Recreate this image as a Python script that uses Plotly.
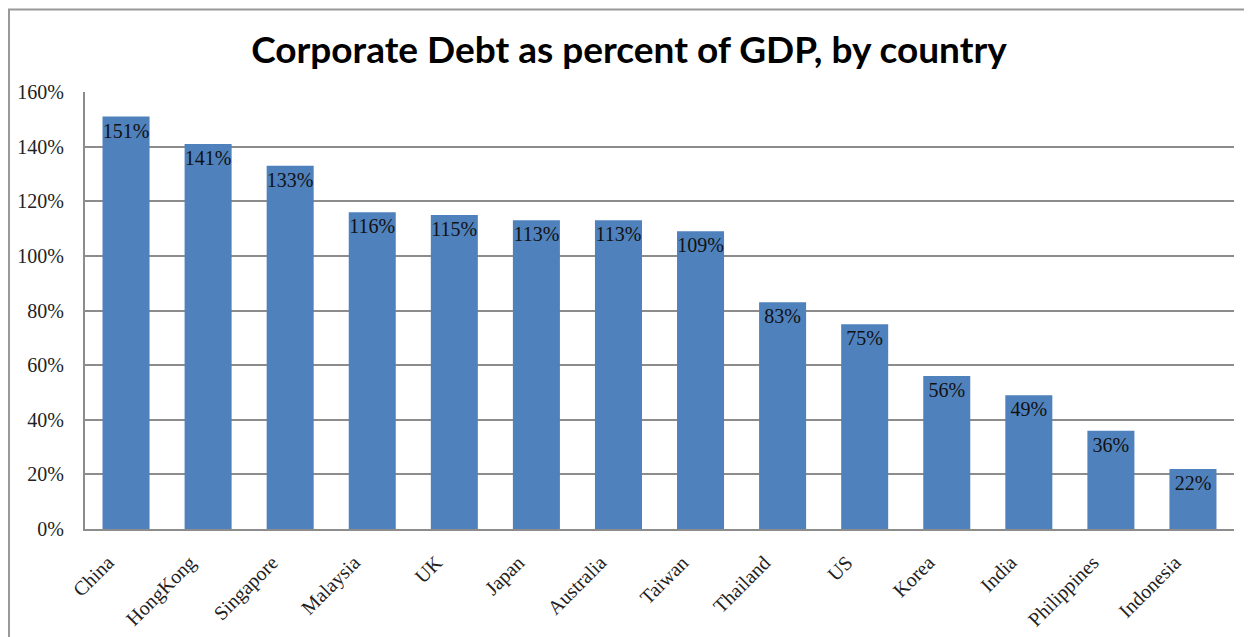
import plotly.graph_objects as go

countries = ["China", "HongKong", "Singapore", "Malaysia", "UK", "Japan", "Australia",
             "Taiwan", "Thailand", "US", "Korea", "India", "Philippines", "Indonesia"]
debt_pct = [151, 141, 133, 116, 115, 113, 113, 109, 83, 75, 56, 49, 36, 22]
label_text = [f"{v}%" for v in debt_pct]
y_ticks = [0, 20, 40, 60, 80, 100, 120, 140, 160]

BAR = "#4F81BD"
SERIF = "Liberation Serif, DejaVu Serif, serif"

# page body has an 8px default margin; compensate so the chart fills 1252x637
OFF = 8
W, H = 1252 - OFF, 637 - OFF
L, R, T, B = 85 - OFF, 18, 92 - OFF, 108
pw, ph = W - L - R, H - T - B

fig = go.Figure()
fig.add_trace(go.Bar(
    x=countries, y=debt_pct, text=label_text,
    textposition="inside", insidetextanchor="end", textangle=0,
    constraintext="none",
    textfont=dict(family=SERIF, size=20, color="#111111"),
    marker=dict(color=BAR, line=dict(width=0)),
    cliponaxis=False,
))

fig.update_layout(
    width=W, height=H,
    margin=dict(l=L, r=R, t=T, b=B, pad=0, autoexpand=False),
    paper_bgcolor="white", plot_bgcolor="white",
    bargap=0.427,
    showlegend=False,
    title=dict(text="<b>Corporate Debt as percent of GDP, by country</b>",
               x=(629 - 85) / pw, xref="paper", xanchor="center",
               y=1 - (50 - OFF) / H, yanchor="middle",
               font=dict(family="Lato, Open Sans, sans-serif", size=37, color="black")),
    font=dict(family=SERIF, color="#222222"),
)
fig.update_xaxes(
    automargin=False,
    tickangle=-45, tickfont=dict(family=SERIF, size=20, color="#222222"),
    ticklabelshift=-18, ticklabelstandoff=12,
    showline=True, linecolor="#8c8c8c", linewidth=2,
    showgrid=False, ticks="", fixedrange=True,
)
fig.update_yaxes(
    automargin=False,
    range=[0, 160], tickvals=y_ticks, ticktext=[f"{v}%" for v in y_ticks],
    tickfont=dict(family=SERIF, size=20, color="#222222"),
    showline=True, linecolor="#8c8c8c", linewidth=2,
    showgrid=True, gridcolor="#8c8c8c", gridwidth=1.5,
    ticks="", ticklabelstandoff=15, zeroline=False, fixedrange=True,
)

# outer chart border
fig.add_shape(type="rect", xref="paper", yref="paper",
              x0=(9 - 85) / pw, x1=(1247 - 85) / pw,
              y0=-0.5, y1=1 + (92 - 9.5) / ph,
              line=dict(color="#999999", width=2), fillcolor="rgba(0,0,0,0)", layer="below")

fig.write_html("out.html")
